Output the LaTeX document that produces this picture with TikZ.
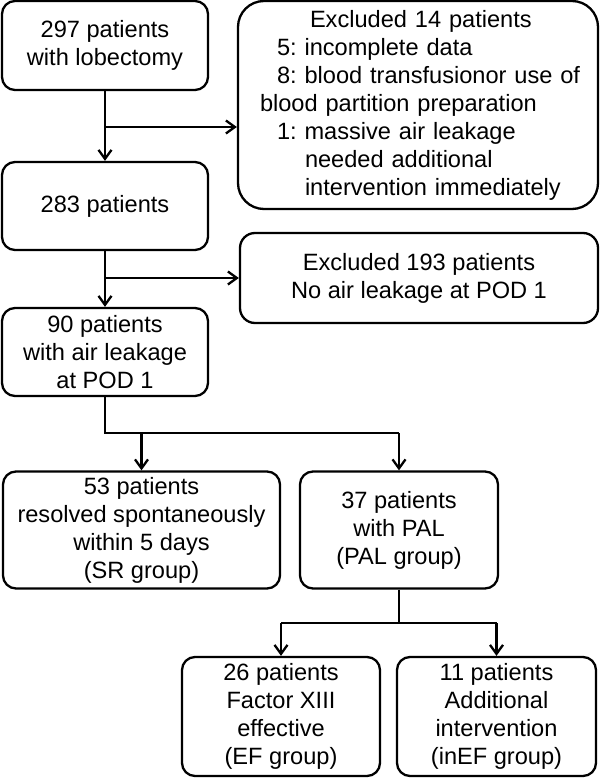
\documentclass[tikz,border=0pt]{standalone}
\usepackage{fontspec}
\setmainfont{Liberation Sans}
\usetikzlibrary{arrows.meta}
\frenchspacing
\begin{document}
\begin{tikzpicture}[x=1pt,y=-1pt,
  box/.style={draw,line width=2.3pt,rounded corners=13pt,inner sep=0pt,align=center,
    font=\fontsize{23.6}{28}\selectfont},
  conn/.style={line width=2.3pt},
  arr/.style={conn,-{Straight Barb[length=9pt,width=13pt,line width=2.3pt]}}]
\useasboundingbox (0,0) rectangle (600,778);
\node[box,minimum width=206pt,minimum height=89pt] (A) at (105,45.5) {297 patients\\with lobectomy};
\node[box,minimum width=206pt,minimum height=88pt] (B) at (105,206) {283 patients};
\node[box,minimum width=206pt,minimum height=88pt] (C) at (105,352) {90 patients\\with air leakage\\at POD 1};
\node[box,rounded corners=26pt,minimum width=360pt,minimum height=208pt,text width=316pt,align=left] (E1) at (418,105)
  {\mbox{\hspace*{50pt}Excluded 14 patients}\\
   \mbox{\hspace*{17pt}5: incomplete data}\\
   \mbox{\hspace*{17pt}8: blood transfusionor use of}\\
   \mbox{blood partition preparation}\\
   \mbox{\hspace*{17pt}1: massive air leakage}\\
   \mbox{\hspace*{45pt}needed additional}\\
   \mbox{\hspace*{45pt}intervention immediately}};
\node[box,rounded corners=15pt,minimum width=358pt,minimum height=90pt] (E2) at (419,278) {Excluded 193 patients\\No air leakage at POD 1};
\node[box,minimum width=277pt,minimum height=117pt] (D1) at (141.5,530) {53 patients\\resolved spontaneously\\within 5 days\\(SR group)};
\node[box,minimum width=198pt,minimum height=117pt] (D2) at (399,530) {37 patients\\with PAL\\(PAL group)};
\node[box,minimum width=198pt,minimum height=119pt] (F1) at (281,716.5) {26 patients\\Factor XIII\\effective\\(EF group)};
\node[box,minimum width=199pt,minimum height=119pt] (F2) at (496.5,716.5) {11 patients\\Additional\\intervention\\(inEF group)};
\coordinate (j1) at (105,127);
\coordinate (j2) at (105,278);
\coordinate (j3) at (105,433);
\coordinate (j4) at (399,623);
\draw[arr] (A.south) -- (B.north);
\draw[arr] (j1) -- (j1 -| E1.west);
\draw[arr] (B.south) -- (C.north);
\draw[arr] (j2) -- (j2 -| E2.west);
\draw[conn] (C.south) -- (j3) -- (j3 -| D2.north);
\draw[arr] (j3 -| D1.north) -- (D1.north);
\draw[arr] (j3 -| D2.north) -- (D2.north);
\draw[conn] (D2.south) -- (j4);
\draw[conn] (j4 -| F1.north) -- (j4 -| F2.north);
\draw[arr] (j4 -| F1.north) -- (F1.north);
\draw[arr] (j4 -| F2.north) -- (F2.north);
\end{tikzpicture}
\end{document}
